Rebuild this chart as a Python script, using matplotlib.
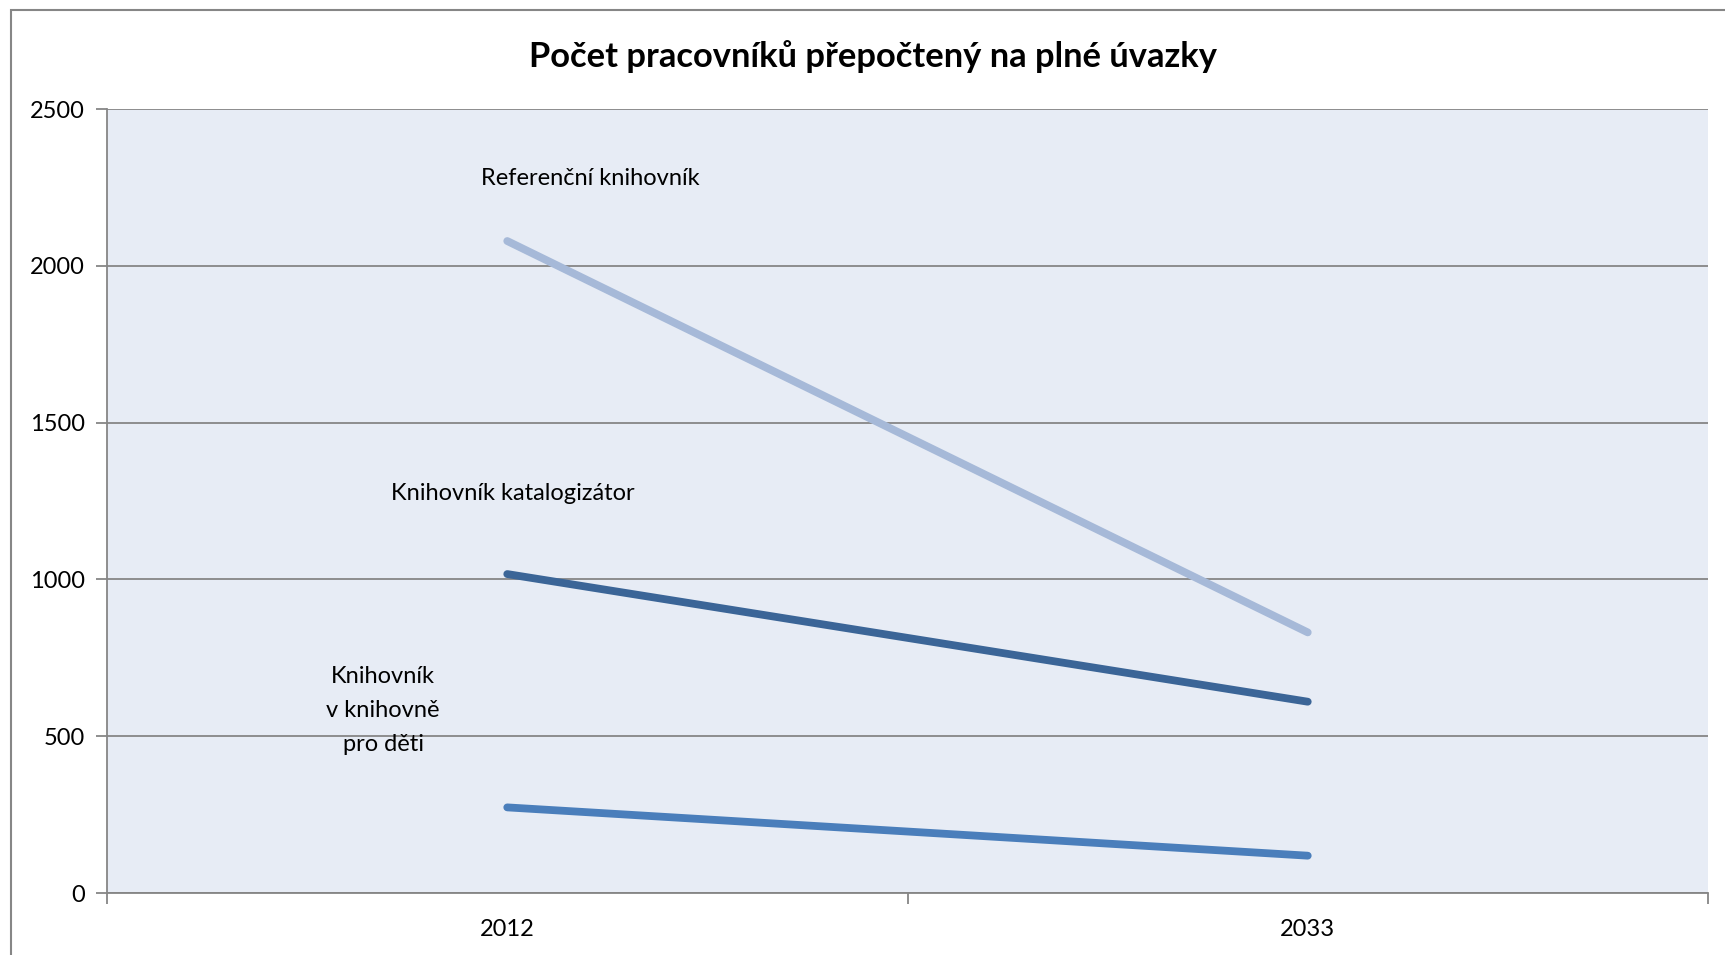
import matplotlib
matplotlib.use("Agg")
import matplotlib.pyplot as plt
from matplotlib.patches import Rectangle

plt.rcParams['font.family'] = ['Lato', 'DejaVu Sans']

years = ["2012", "2033"]
referencni = [2079, 831]
katalogizator = [1017, 610]
deti = [273, 119]
series_labels = ["Referenční knihovník", "Knihovník katalogizátor", "Knihovník\nv knihovně\npro děti"]
title = "Počet pracovníků přepočtený na plné úvazky"
yticks = [0, 500, 1000, 1500, 2000, 2500]

W, H = 1725, 955
fig = plt.figure(figsize=(W / 100, H / 100), dpi=100)
ax = fig.add_axes([107 / W, 1 - 893 / H, (1708 - 107) / W, (893 - 109) / H])

# outer chart border
fig.patches.append(Rectangle((11 / W, -0.01), 1.1, 1 - 10 / H + 0.01, transform=fig.transFigure,
                             fill=False, edgecolor="#868686", linewidth=1.5))

ax.set_facecolor("#E7ECF5")
x = list(range(len(years)))
cols = ["#A6B9D8", "#3B6597", "#4A7EBB"]
for vals, c in zip([referencni, katalogizator, deti], cols):
    ax.plot(x, vals, color=c, linewidth=5.6, solid_capstyle="round", zorder=3)

fs = 17
ax.set_xlim(-0.5, 1.5)
ax.set_ylim(0, 2500)
ax.set_yticks(yticks)
ax.set_yticklabels([str(v) for v in yticks], fontsize=fs)
ax.yaxis.grid(True, color="#868686", linewidth=1.3)
ax.set_axisbelow(True)

ax.set_xticks(x)
ax.set_xticklabels(years, fontsize=fs)
ax.tick_params(axis="x", length=0, pad=19)
ax.set_xticks([-0.5, 0.5, 1.5], minor=True)
ax.tick_params(axis="x", which="minor", length=8, color="#868686", width=1.3)
ax.tick_params(axis="y", length=8, color="#868686", width=1.3, pad=8)

for s in ["top", "right"]:
    ax.spines[s].set_visible(False)
for s in ["left", "bottom"]:
    ax.spines[s].set_color("#868686")
    ax.spines[s].set_linewidth(1.3)

ax.text(0.104, 2279, series_labels[0], ha="center", va="center", fontsize=fs)
ax.text(0.007, 1273, series_labels[1], ha="center", va="center", fontsize=fs)
ax.text(-0.155, 582, series_labels[2], ha="center", va="center", fontsize=fs, linespacing=1.75)

fig.text(873 / W, 1 - 57 / H, title, ha="center", va="center", fontsize=24.8, fontweight="bold")

fig.savefig("out.png", dpi=100)
